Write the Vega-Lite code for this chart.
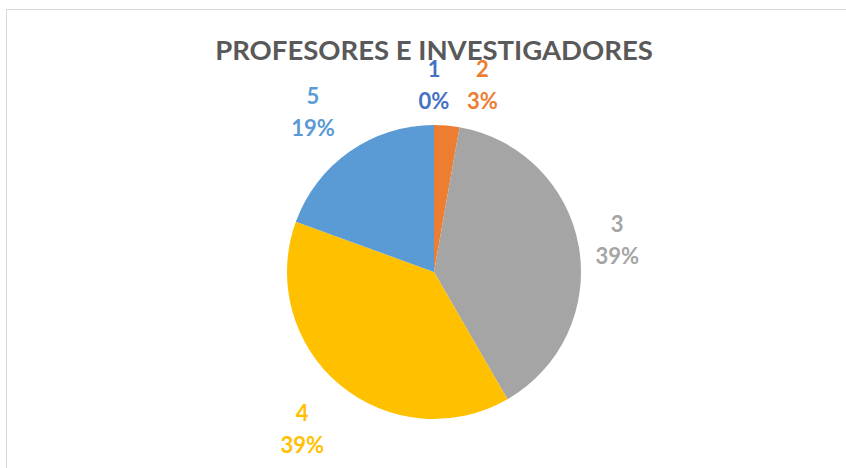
{
  "$schema": "https://vega.github.io/schema/vega-lite/v6.json",
  "autosize": "none",
  "width": 856,
  "height": 526,
  "padding": {"left": 6, "top": 9, "right": 0, "bottom": 0},
  "background": "white",
  "view": {"stroke": "#d9d9d9", "strokeWidth": 1},
  "title": {
    "text": "PROFESORES E INVESTIGADORES",
    "font": "Lato",
    "fontSize": 27.5,
    "fontWeight": "bold",
    "color": "#595959",
    "anchor": "middle",
    "frame": "group",
    "baseline": "alphabetic",
    "offset": -78
  },
  "data": {
    "values": [
      {"category": "1", "value": 0},
      {"category": "2", "value": 1},
      {"category": "3", "value": 14},
      {"category": "4", "value": 14},
      {"category": "5", "value": 7}
    ]
  },
  "transform": [
    {"joinaggregate": [{"op": "sum", "field": "value", "as": "total"}]},
    {"calculate": "[datum.category, format(datum.value / datum.total, '.0%')]", "as": "label"}
  ],
  "encoding": {
    "theta": {"field": "value", "type": "quantitative", "stack": true},
    "color": {
      "field": "category",
      "type": "nominal",
      "scale": {
        "domain": ["1", "2", "3", "4", "5"],
        "range": ["#4472C4", "#ED7D31", "#A5A5A5", "#FFC000", "#5B9BD5"]
      },
      "legend": null
    },
    "order": {"field": "category", "type": "nominal"}
  },
  "layer": [
    {"mark": {"type": "arc", "radius": 147}},
    {
      "mark": {"type": "text", "radius": 187, "dy": -15, "font": "Lato", "fontSize": 22, "fontWeight": "bold", "lineHeight": 32, "baseline": "middle", "align": "center"},
      "encoding": {
        "text": {"field": "label"},
        "opacity": {"condition": {"test": "datum.category == '1'", "value": 1}, "value": 0}
      }
    },
    {
      "mark": {"type": "text", "radius": 188, "dx": 32, "dy": -15, "font": "Lato", "fontSize": 22, "fontWeight": "bold", "lineHeight": 32, "baseline": "middle", "align": "center"},
      "encoding": {
        "text": {"field": "label"},
        "opacity": {"condition": {"test": "datum.category == '2'", "value": 1}, "value": 0}
      }
    },
    {
      "mark": {"type": "text", "radius": 186, "dy": -15, "font": "Lato", "fontSize": 22, "fontWeight": "bold", "lineHeight": 32, "baseline": "middle", "align": "center"},
      "encoding": {
        "text": {"field": "label"},
        "opacity": {"condition": {"test": "datum.category == '3'", "value": 1}, "value": 0}
      }
    },
    {
      "mark": {"type": "text", "radius": 205, "dy": -15.5, "font": "Lato", "fontSize": 22, "fontWeight": "bold", "lineHeight": 32, "baseline": "middle", "align": "center"},
      "encoding": {
        "text": {"field": "label"},
        "opacity": {"condition": {"test": "datum.category == '4'", "value": 1}, "value": 0}
      }
    },
    {
      "mark": {"type": "text", "radius": 211, "dy": -2, "font": "Lato", "fontSize": 22, "fontWeight": "bold", "lineHeight": 32, "baseline": "middle", "align": "center"},
      "encoding": {
        "text": {"field": "label"},
        "opacity": {"condition": {"test": "datum.category == '5'", "value": 1}, "value": 0}
      }
    }
  ]
}
